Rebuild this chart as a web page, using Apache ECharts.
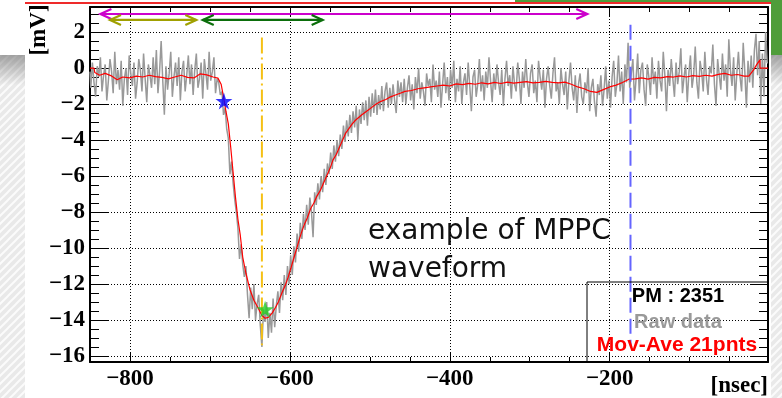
<!DOCTYPE html>
<html><head><meta charset="utf-8">
<script src="https://cdn.jsdelivr.net/npm/echarts@6/dist/echarts.min.js"></script>
<style>html,body{margin:0;padding:0;background:#fff;overflow:hidden}#c{width:782px;height:398px}</style>
</head><body><div id="c"></div>
<script>
// ---------- data ----------
const xRange = [-850, -2];
const yRange = [-16.33, 3.39];
const xMajorTicks = [-800, -600, -400, -200];
const yMajorTicks = [-16, -14, -12, -10, -8, -6, -4, -2, 0, 2];
const rawStart = -850;
const rawStep = 2;
const rawBaseline = [
 -0.2,-1.1,0.3,-0.8,-1.6,0.1,-0.5,0.6,-1.3,-0.4,
 0.2,-1.8,-0.7,0.5,-0.2,-1.4,0.9,-0.9,-0.1,-1.2,
 0.4,-2.1,-0.6,0.0,-1.5,0.7,-0.3,-1.0,0.3,-1.7,
 -0.8,0.5,-0.1,-1.3,0.8,-0.6,-1.9,0.2,-0.4,-1.1,
 0.6,-0.9,1.0,-1.4,-0.2,1.5,-0.7,-2.6,0.1,-1.2,
 -0.3,0.9,-1.6,-0.5,0.3,-1.0,0.6,-1.8,-0.2,0.4,
 -1.3,-0.4,0.7,-0.9,0.2,-1.5,-0.1,0.8,-1.1,-0.6,
 0.3,-1.7,0.5,-0.3,-1.2,0.9,-0.7,-0.2,0.6,-1.4,
 -0.6
];
const rawPulse = [
 -0.8,-1.5,-1.3,-2.6,-2.2,-3.4,-3.9,-5.9,-5.2,-6.4,
 -7.3,-8.0,-8.9,-10.6,-9.8,-10.9,-11.6,-11.0,-12.6,-13.9,
 -12.2,-13.4,-12.0,-14.0,-13.1,-12.6,-14.3,-15.5,-13.4,-14.1,
 -13.0,-15.0,-13.6,-14.7,-12.8,-14.4,-13.2,-12.4,-13.6,-11.9,
 -12.9,-11.5,-12.6,-11.0,-12.0,-10.4,-11.5,-9.9,-10.8,-9.2,
 -10.2,-8.6,-9.5,-8.1,-9.0,-7.6,-8.7,-7.2,-8.0,-9.4,
 -6.9,-7.6,-6.4,-7.3,-6.0,-6.9,-5.6,-6.5,-5.3,-5.9,
 -4.7,-5.6,-4.3,-5.2,-4.0,-4.9,-3.7,-4.5,-3.2,-4.1,
 -2.9,-3.8,-2.6,-3.6,-2.4,-3.3,-2.1,-4.0,-2.3,-3.1,
 -1.9,-2.9,-1.8,-3.2,-1.6,-2.7,-1.4,-2.5,-1.2,-2.6,
 -1.5,-2.3,-1.0,-2.4,-1.3,-0.8,-2.2,-1.1,-2.0,-0.9,
 -1.8,-2.5,-0.7,-1.6,-0.8,-1.9
];
const rawTail = [
 -0.6,-2.0,-1.1,-0.4,-1.8,-0.9,-2.3,-0.5,-1.4,0.0,
 -1.7,-0.8,-1.3,-2.1,-0.3,-1.0,-0.6,-1.9,0.2,-1.2,
 -0.7,-1.6,-0.2,-2.2,-0.9,0.3,-1.4,-0.5,-1.8,-0.1,
 -1.1,0.4,-1.9,-0.6,-1.3,0.1,-2.0,-0.8,-0.3,-1.5,
 0.3,-1.0,-2.4,-0.5,-0.1,-1.6,-0.9,0.5,-1.3,-0.4,
 -1.8,-0.2,-1.1,0.6,-0.7,-1.9,-0.3,-1.2,0.2,-0.8,
 -1.5,-0.1,-2.1,-0.6,0.4,-1.0,-0.4,-1.7,0.1,-0.9,
 -1.3,0.3,-0.6,-2.0,-0.2,-1.1,0.5,-0.8,-1.6,-0.3,
 0.2,-1.4,-0.7,-1.9,0.4,-0.5,-1.2,-0.1,-2.2,-0.6,
 0.1,-1.0,-1.7,-0.3,0.6,-1.3,-0.8,-2.0,0.0,-0.9,
 -1.5,-0.2,-2.3,-0.7,0.3,-1.1,-1.8,-0.4,-2.5,-0.9,
 -0.3,-1.6,-2.0,-0.8,-1.4,0.0,-2.4,-1.1,-0.6,-1.9,
 -2.7,-0.9,-1.5,-0.4,-2.1,-1.2,0.1,-1.7,-0.7,-2.2,
 -0.5,0.4,-1.6,-0.9,0.7,-1.3,-0.2,-2.0,0.2,-0.8,
 1.4,-1.1,-0.3,0.5,-1.8,-0.6,0.8,-1.4,-0.1,0.3,
 -1.2,-2.1,0.2,-0.5,-1.5,0.6,-0.9,-0.2,-1.7,0.4,
 -0.7,-1.3,0.9,-0.4,-2.4,-0.1,-1.0,0.5,-0.6,-1.6,
 0.3,-0.9,-0.2,1.1,-1.4,-0.5,0.2,-1.9,-0.3,0.7,
 -1.1,-0.4,1.2,-0.8,-1.7,0.4,-0.2,-1.3,0.9,-0.6,
 -1.5,0.1,-0.3,1.3,-0.9,-2.1,0.5,-0.4,-1.2,0.8,
 -0.7,0.2,-1.6,1.6,-0.1,-1.0,0.6,-1.8,-0.3,0.9,
 -0.5,-1.3,1.4,-0.2,-2.2,0.4,-0.8,0.7,-1.1,1.0,
 1.9,-0.4,1.5,-2.0,0.8,-1.6,2.0,0.3
];
const aveTimes = [
 -850,-845,-844,-838,-831,-824,-816,-809,-800,-792,-784,-776,-768,-760,-752,-744,-736,-728,-720,-712,-704,-696,-690,
 -686,-683,-680,-677,-674,-671,-668,-665,-662,-659,-655,-650,-645,-640,-635,-631,-627,-622,-618,-614,-610,-606,-602,
 -598,-594,-590,-586,-582,-578,-574,-570,-566,-562,-558,-554,-550,-546,-542,-538,-534,-530,-526,-522,-518,-514,-510,
 -504,-498,-492,-486,-480,-474,-468,-462,-456,-448,-440,-432,-424,-416,-408,-400,-392,-384,-376,-368,-360,-352,-344,
 -336,-328,-320,-312,-304,-296,-288,-280,-272,-264,-256,-248,-240,-232,-224,-216,-208,-200,-192,-184,-176,-168,-160,
 -152,-144,-136,-128,-120,-112,-104,-96,-88,-80,-72,-64,-56,-48,-40,-32,-26,-20,-16,-12,-12,-2
];
const aveValues = [
 0,0,-0.25,-0.4,-0.3,-0.42,-0.65,-0.5,-0.55,-0.45,-0.5,-0.4,-0.48,-0.52,-0.6,-0.5,-0.4,-0.52,-0.55,-0.32,-0.38,-0.5,-0.56,
 -0.9,-1.6,-2.4,-3.1,-4.4,-5.8,-7.2,-8.4,-9.3,-10.5,-11.4,-12.3,-12.9,-13.3,-13.75,-13.9,-13.85,-13.6,-13.3,-12.95,-12.5,-12.1,-11.6,
 -11.0,-10.4,-9.8,-9.2,-8.7,-8.3,-7.8,-7.5,-7.1,-6.8,-6.4,-6.0,-5.6,-5.1,-4.8,-4.4,-4.0,-3.6,-3.35,-3.1,-2.9,-2.75,-2.6,
 -2.4,-2.2,-2.0,-1.85,-1.75,-1.6,-1.5,-1.4,-1.3,-1.25,-1.15,-1.1,-1.05,-1.0,-0.95,-1.0,-0.88,-0.92,-0.85,-0.9,-0.82,-0.88,-0.8,
 -0.86,-0.78,-0.84,-0.8,-0.76,-0.82,-0.8,-0.74,-0.8,-0.82,-0.78,-0.9,-1.05,-1.15,-1.3,-1.35,-1.2,-1.05,-0.95,-0.8,-0.62,-0.6,-0.55,
 -0.62,-0.52,-0.55,-0.48,-0.5,-0.44,-0.5,-0.42,-0.46,-0.4,-0.45,-0.35,-0.3,-0.4,-0.36,-0.45,-0.45,-0.1,0.2,0.45,0,0
];
const startPoint = [-682.5, -1.83];
const peakPoint = [-631, -13.4];
const vlineTimes = [-635, -174];
const vlineTops = [1.7, 2.4];
const vlineBottoms = [-15.4, -15.4];
const arrowFrom = [-837, -825, -709];
const arrowTo = [-228, -717, -559];
const arrowY = [3.0, 2.67, 2.67];
const legendLines = ['PM : 2351', 'Raw data', 'Mov-Ave 21pnts'];
const noteLines = ['example of MPPC', 'waveform'];

// ---------- helpers ----------
const rawValues = rawBaseline.concat(rawPulse, rawTail);
const xMinorTicks = []; for (let v = -850; v < -2; v += 50) xMinorTicks.push(v);
const yMinorTicks = []; for (let v = -16; v <= 3; v += 0.5) yMinorTicks.push(v);
const fmt = v => (v < 0 ? '\u2212' + Math.abs(v) : String(v));
const serif = 'Liberation Serif';

function stripes() {
  const c = document.createElement('canvas'); c.width = 8; c.height = 8;
  const g = c.getContext('2d');
  g.fillStyle = '#e9e9e9'; g.fillRect(0, 0, 8, 8);
  g.strokeStyle = '#fbfbfb'; g.lineWidth = 2;
  g.beginPath();
  g.moveTo(0, 8); g.lineTo(8, 0);
  g.moveTo(-4, 4); g.lineTo(4, -4);
  g.moveTo(4, 12); g.lineTo(12, 4);
  g.stroke();
  return c;
}

function xAx(pos, major) {
  return {
    type: 'value', gridIndex: 0, position: pos, min: xRange[0], max: xRange[1],
    axisLine: { show: major, onZero: false, lineStyle: { color: '#000', width: 2 } },
    axisTick: { show: true, inside: true, length: major ? 10 : 5,
      customValues: major ? xMajorTicks : xMinorTicks, lineStyle: { color: '#000', width: 1 } },
    axisLabel: { show: major && pos === 'bottom', customValues: xMajorTicks, formatter: fmt,
      color: '#000', fontFamily: serif, fontWeight: 'bold', fontSize: 23, margin: 6 },
    splitLine: { show: major && pos === 'bottom', lineStyle: { color: '#000', width: 1, type: [1, 2] } }
  };
}
function yAx(pos, major) {
  return {
    type: 'value', gridIndex: 0, position: pos, min: yRange[0], max: yRange[1],
    axisLine: { show: major, onZero: false, lineStyle: { color: '#000', width: 2 } },
    axisTick: { show: true, inside: true, length: major ? 18 : 9,
      customValues: major ? yMajorTicks : yMinorTicks, lineStyle: { color: '#000', width: 1 } },
    axisLabel: { show: major && pos === 'left', customValues: yMajorTicks, formatter: fmt,
      color: '#000', fontFamily: serif, fontWeight: 'bold', fontSize: 23, margin: 5 },
    splitLine: { show: major && pos === 'left', lineStyle: { color: '#000', width: 1, type: [1, 2] } }
  };
}

const star = 'path://M50,0 L61,35 L98,35 L68,57 L79,91 L50,70 L21,91 L32,57 L2,35 L39,35 Z';
const arrowColors = ['#cc00cc', '#a0a000', '#0b6e0b'];
const vlineStyles = [
  { color: '#f5c015', width: 2, type: [16, 4, 2, 4] },
  { color: '#6464ff', width: 2, type: [15, 6] }
];

const series = [
  { type: 'line', name: 'raw', step: 'middle', symbol: 'none', z: 2,
    data: rawValues.map((v, i) => [rawStart + i * rawStep, v]),
    lineStyle: { color: '#999999', width: 1.5 } },
  { type: 'line', name: 'ave', symbol: 'none', z: 3,
    data: aveTimes.map((t, i) => [t, aveValues[i]]),
    lineStyle: { color: '#ff0000', width: 1.2 } }
];
vlineTimes.forEach((t, i) => series.push({
  type: 'line', symbol: 'none', z: 4,
  data: [[t, vlineTops[i]], [t, vlineBottoms[i]]],
  lineStyle: vlineStyles[i]
}));
series.push({
  type: 'custom', z: 5,
  data: arrowFrom.map((f, i) => [f, arrowTo[i], arrowY[i], i]),
  renderItem: function (params, api) {
    const a = api.coord([api.value(0), api.value(2)]);
    const b = api.coord([api.value(1), api.value(2)]);
    const col = arrowColors[api.value(3)];
    const hl = 11, hw = 5;
    const st = { stroke: col, lineWidth: 2.2, fill: 'none' };
    return { type: 'group', children: [
      { type: 'line', shape: { x1: a[0], y1: a[1], x2: b[0], y2: b[1] }, style: st },
      { type: 'polyline', shape: { points: [[a[0] + hl, a[1] - hw], [a[0], a[1]], [a[0] + hl, a[1] + hw]] }, style: st },
      { type: 'polyline', shape: { points: [[b[0] - hl, b[1] - hw], [b[0], b[1]], [b[0] - hl, b[1] + hw]] }, style: st }
    ] };
  }
});
series.push({ type: 'scatter', symbol: star, symbolSize: 17, z: 6, data: [startPoint],
  itemStyle: { color: '#0000ff' } });
series.push({ type: 'scatter', symbol: star, symbolSize: 17, z: 6, data: [peakPoint],
  itemStyle: { color: '#22cc22' } });

const pattern = { image: stripes(), repeat: 'repeat' };
const shade = { type: 'linear', x: 0, y: 0, x2: 0, y2: 1,
  colorStops: [{ offset: 0, color: 'rgba(110,110,110,0.6)' }, { offset: 1, color: 'rgba(110,110,110,0)' }] };

const option = {
  animation: false,
  backgroundColor: '#ffffff',
  grid: { left: 90, top: 7, width: 678, height: 355, containLabel: false },
  xAxis: [xAx('bottom', true), xAx('bottom', false), xAx('top', true), xAx('top', false)],
  yAxis: [yAx('left', true), yAx('left', false), yAx('right', true), yAx('right', false)],
  series: series,
  graphic: [
    { type: 'rect', shape: { x: 0, y: 55, width: 25, height: 343 }, style: { fill: pattern }, z: -10 },
    { type: 'rect', shape: { x: 0, y: 55, width: 25, height: 30 }, z: -9, style: { fill: shade } },
    { type: 'rect', shape: { x: 771, y: 55, width: 11, height: 343 }, style: { fill: pattern }, z: -10 },
    { type: 'rect', shape: { x: 771, y: 55, width: 11, height: 30 }, z: -9, style: { fill: shade } },
    { type: 'rect', shape: { x: 515, y: 0, width: 267, height: 3 }, style: { fill: '#4f9d3a' }, z: -8 },
    { type: 'rect', shape: { x: 771, y: 0, width: 11, height: 55 }, style: { fill: '#4f9d3a' }, z: -8 },
    { type: 'rect', shape: { x: 25, y: 2, width: 746, height: 2 }, style: { fill: '#ee2a2a' }, z: -7 },
    { type: 'text', x: 39, y: 30, rotation: Math.PI / 2,
      style: { text: '[mV]', font: 'bold 23px "Liberation Serif"', fill: '#000', align: 'center', verticalAlign: 'middle' } },
    { type: 'text', x: 768, y: 386,
      style: { text: '[nsec]', font: 'bold 23px "Liberation Serif"', fill: '#000', align: 'right', verticalAlign: 'middle' } },
    { type: 'text', x: 368, y: 232,
      style: { text: noteLines[0], font: '28px "DejaVu Sans"', fill: '#111', align: 'left', verticalAlign: 'middle' } },
    { type: 'text', x: 368, y: 270,
      style: { text: noteLines[1], font: '28px "DejaVu Sans"', fill: '#111', align: 'left', verticalAlign: 'middle' } },
    { type: 'rect', shape: { x: 587, y: 282, width: 181, height: 80 }, style: { fill: 'none', stroke: '#000', lineWidth: 1 }, z: 10 },
    { type: 'text', x: 678, y: 296, z: 11,
      style: { text: legendLines[0], font: 'bold 20px "Liberation Sans"', fill: '#000', align: 'center', verticalAlign: 'middle' } },
    { type: 'text', x: 678, y: 322, z: 11,
      style: { text: legendLines[1], font: 'bold 20px "Liberation Sans"', fill: '#999999', align: 'center', verticalAlign: 'middle' } },
    { type: 'text', x: 677, y: 345, z: 11,
      style: { text: legendLines[2], font: 'bold 21px "Liberation Sans"', fill: '#ff0000', align: 'center', verticalAlign: 'middle' } }
  ]
};
echarts.init(document.getElementById('c'), null, { renderer: 'canvas' }).setOption(option);
</script>
</body></html>
